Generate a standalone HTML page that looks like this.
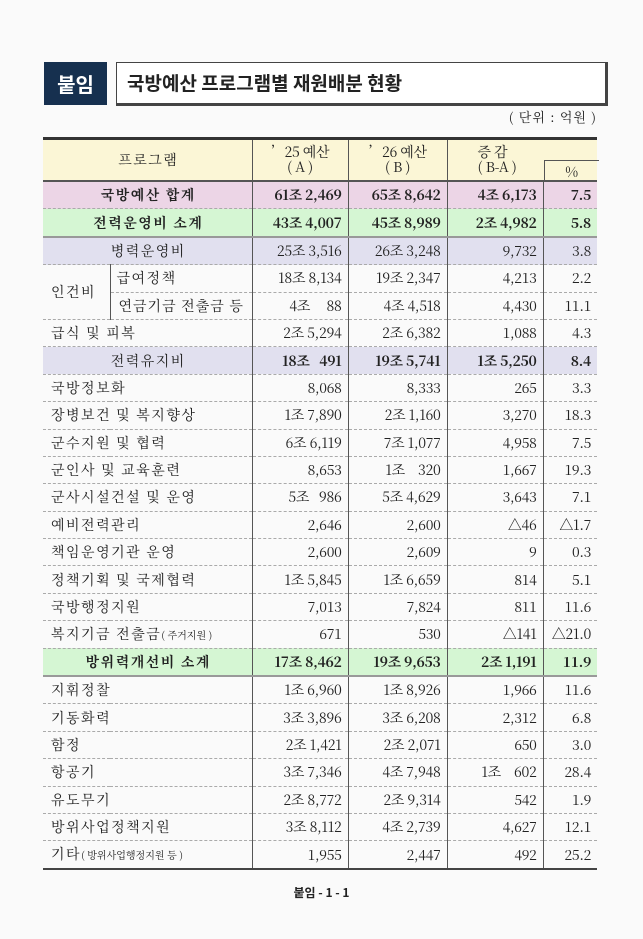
<!DOCTYPE html>
<html><head><meta charset="utf-8">
<style>
body{margin:0;width:643px;height:939px;background:#fafafa;font-family:"Noto Serif CJK SC","Liberation Serif",serif;color:#222;position:relative;overflow:hidden}
.tag{position:absolute;left:44px;top:62px;width:63px;height:43px;background:#16304f;color:#fff;font:bold 20px "Noto Sans CJK KR",sans-serif;display:flex;align-items:center;justify-content:center}
.title{position:absolute;left:116px;top:62px;width:478px;height:40px;border:1px solid #444;border-right:3px solid #444;border-bottom:3px solid #444;background:#fff;font:bold 19px "Noto Sans CJK KR",sans-serif;line-height:40px;padding-left:10px;box-sizing:content-box}
.unit{position:absolute;right:46px;top:107px;font-size:13px;letter-spacing:1px}
table{position:absolute;left:43px;top:137px;width:554px;border-collapse:collapse;table-layout:fixed;font-size:14px;letter-spacing:-0.3px}
td{height:26.4px;padding:0 6px;border-bottom:1px dashed #aaa;border-left:1px solid #555;white-space:nowrap;text-align:right;vertical-align:middle;line-height:16px}
td:first-child{border-left:none;text-align:left;padding-left:8px;letter-spacing:1.5px}
tr.h td{height:40px;background:#fbf6d6;text-align:center;border-bottom:2px solid #555;line-height:15px}
tr.h{border-top:3px solid #333}
.pk td{background:#ecd5e6;font-weight:bold}
.gr td{background:#d5f6d3;font-weight:bold;border-bottom:2px solid #999}
.lv td{background:#e1e0ef}
.pk td:first-child,.gr td:first-child,.lv td:first-child{text-align:center}
small{font-size:10px;letter-spacing:0}
tr.last td{border-bottom:2px solid #444}
.foot{position:absolute;left:0;width:643px;top:884px;text-align:center;font:bold 12px "Noto Sans CJK KR",sans-serif}
</style></head><body>
<div class="tag">붙임</div>
<div class="title">국방예산 프로그램별 재원배분 현황</div>
<div class="unit">( 단위 : 억원 )</div>
<table>
<colgroup><col style="width:67px"><col style="width:142px"><col style="width:96px"><col style="width:99px"><col style="width:96px"><col style="width:54px"></colgroup>
<tr class="h"><td colspan="2" style="text-align:center">프로그램</td><td>’25 예산<br>( A )</td><td>’26 예산<br>( B )</td><td colspan="2" style="position:relative;text-align:left;padding-left:30px">증 감<br>( B-A )<span style="position:absolute;left:96px;top:20px;width:54px;height:20px;border-left:1px solid #555;border-top:1px solid #555;text-align:center;line-height:22px">%</span></td></tr>
<tr class="pk"><td colspan="2">국방예산 합계</td><td>61조 2,469</td><td>65조 8,642</td><td>4조 6,173</td><td>7.5</td></tr>
<tr class="gr"><td colspan="2">전력운영비 소계</td><td>43조 4,007</td><td>45조 8,989</td><td>2조 4,982</td><td>5.8</td></tr>
<tr class="lv"><td colspan="2">병력운영비</td><td>25조 3,516</td><td>26조 3,248</td><td>9,732</td><td>3.8</td></tr>
<tr><td rowspan="2" style="border-bottom:1px dashed #aaa">인건비</td><td style="border-left:1px solid #555;text-align:left;letter-spacing:1.5px">급여정책</td><td>18조 8,134</td><td>19조 2,347</td><td>4,213</td><td>2.2</td></tr>
<tr><td style="border-left:1px solid #555;text-align:left;letter-spacing:1px">연금기금 전출금 등</td><td>4조 &nbsp;&nbsp;&nbsp;&nbsp;88</td><td>4조 4,518</td><td>4,430</td><td>11.1</td></tr>
<tr><td colspan="2">급식 및 피복</td><td>2조 5,294</td><td>2조 6,382</td><td>1,088</td><td>4.3</td></tr>
<tr class="lv"><td colspan="2">전력유지비</td><td><b>18조 &nbsp;&nbsp;491</b></td><td><b>19조 5,741</b></td><td><b>1조 5,250</b></td><td><b>8.4</b></td></tr>
<tr><td colspan="2">국방정보화</td><td>8,068</td><td>8,333</td><td>265</td><td>3.3</td></tr>
<tr><td colspan="2">장병보건 및 복지향상</td><td>1조 7,890</td><td>2조 1,160</td><td>3,270</td><td>18.3</td></tr>
<tr><td colspan="2">군수지원 및 협력</td><td>6조 6,119</td><td>7조 1,077</td><td>4,958</td><td>7.5</td></tr>
<tr><td colspan="2">군인사 및 교육훈련</td><td>8,653</td><td>1조 &nbsp;&nbsp;&nbsp;320</td><td>1,667</td><td>19.3</td></tr>
<tr><td colspan="2">군사시설건설 및 운영</td><td>5조 &nbsp;&nbsp;986</td><td>5조 4,629</td><td>3,643</td><td>7.1</td></tr>
<tr><td colspan="2">예비전력관리</td><td>2,646</td><td>2,600</td><td>△46</td><td>△1.7</td></tr>
<tr><td colspan="2">책임운영기관 운영</td><td>2,600</td><td>2,609</td><td>9</td><td>0.3</td></tr>
<tr><td colspan="2">정책기획 및 국제협력</td><td>1조 5,845</td><td>1조 6,659</td><td>814</td><td>5.1</td></tr>
<tr><td colspan="2">국방행정지원</td><td>7,013</td><td>7,824</td><td>811</td><td>11.6</td></tr>
<tr><td colspan="2">복지기금 전출금<small>( 주거지원 )</small></td><td>671</td><td>530</td><td>△141</td><td>△21.0</td></tr>
<tr class="gr"><td colspan="2">방위력개선비 소계</td><td>17조 8,462</td><td>19조 9,653</td><td>2조 1,191</td><td>11.9</td></tr>
<tr><td colspan="2">지휘정찰</td><td>1조 6,960</td><td>1조 8,926</td><td>1,966</td><td>11.6</td></tr>
<tr><td colspan="2">기동화력</td><td>3조 3,896</td><td>3조 6,208</td><td>2,312</td><td>6.8</td></tr>
<tr><td colspan="2">함정</td><td>2조 1,421</td><td>2조 2,071</td><td>650</td><td>3.0</td></tr>
<tr><td colspan="2">항공기</td><td>3조 7,346</td><td>4조 7,948</td><td>1조 &nbsp;&nbsp;&nbsp;602</td><td>28.4</td></tr>
<tr><td colspan="2">유도무기</td><td>2조 8,772</td><td>2조 9,314</td><td>542</td><td>1.9</td></tr>
<tr><td colspan="2">방위사업정책지원</td><td>3조 8,112</td><td>4조 2,739</td><td>4,627</td><td>12.1</td></tr>
<tr class="last"><td colspan="2">기타<small>( 방위사업행정지원 등 )</small></td><td>1,955</td><td>2,447</td><td>492</td><td>25.2</td></tr>
</table>
<div class="foot">붙임 - 1 - 1</div>
</body></html>
